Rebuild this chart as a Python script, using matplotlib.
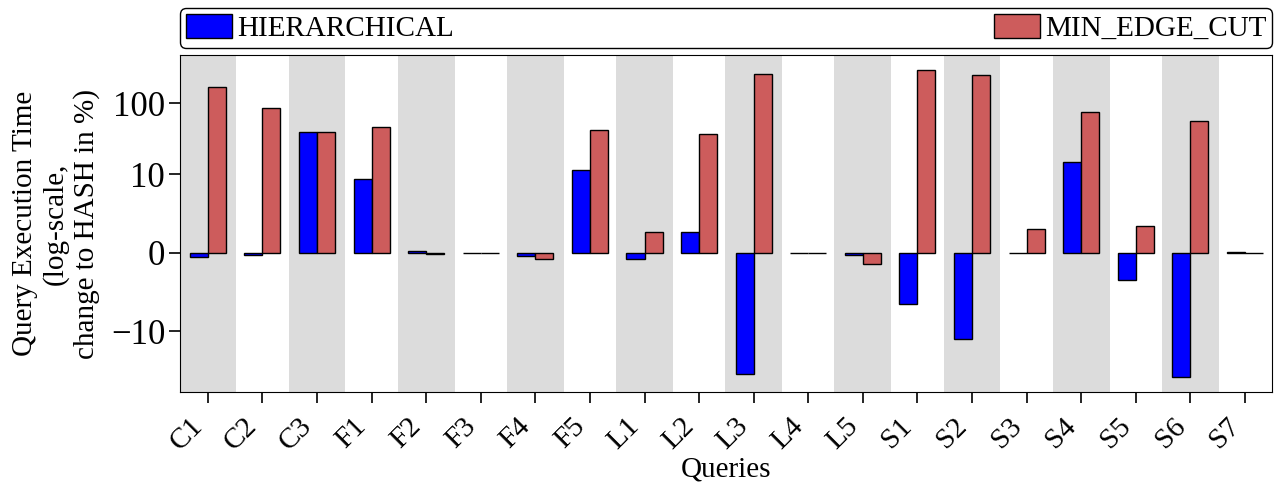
import numpy as np
import matplotlib
matplotlib.use("Agg")
from matplotlib import pyplot as plt
from matplotlib import transforms

plt.rcParams['font.family'] = ['Liberation Serif', 'DejaVu Serif']
plt.rcParams['font.size'] = 20

queries = ["C1", "C2", "C3", "F1", "F2", "F3", "F4", "F5", "L1", "L2",
           "L3", "L4", "L5", "S1", "S2", "S3", "S4", "S5", "S6", "S7"]
# change relative to HASH, in percent
hierarchical = [-0.5, -0.25, 38.8, 9.4, 0.17, 0.02, -0.45, 11.5, -0.75, 2.7,
                -40.5, 0.0, -0.25, -6.5, -12.7, -0.03, 14.8, -3.5, -43.6, 0.08]
min_edge_cut = [167, 84.5, 38.8, 46.5, -0.2, -0.02, -0.8, 41.8, 2.7, 37.1,
                259, 0.0, -1.4, 290, 252, 3.0, 74.3, 3.4, 56, -0.03]
ytick_vals = [-10, 0, 10, 100]
ytick_labels = ["\u221210", "0", "10", "100"]


def main():
    fig, ax = plt.subplots(figsize=(12.8, 4.84), dpi=100)
    x = np.arange(len(queries))
    w = 0.33

    # shade every other query
    for i in range(0, len(queries), 2):
        ax.axvspan(i - 0.52, i + 0.52, color="#dcdcdc", lw=0, zorder=0)

    ax.bar(x - w / 2, hierarchical, w, color="#0000ff", edgecolor="black",
           linewidth=1, label="HIERARCHICAL", zorder=2)
    ax.bar(x + w / 2, min_edge_cut, w, color="#cd5c5c", edgecolor="black",
           linewidth=1, label="MIN_EDGE_CUT", zorder=2)

    ax.set_yscale("symlog", linthresh=10)
    ax.set_yticks(ytick_vals)
    ax.set_yticklabels(ytick_labels, fontsize=25)
    ax.yaxis.set_minor_locator(matplotlib.ticker.NullLocator())
    ax.set_xlim(-0.5, len(queries) - 0.5)
    ax.set_xticks(x)
    ax.set_xticklabels(queries, rotation=45, ha="right", fontsize=21)
    # nudge the rotated labels a little to the left
    shift = transforms.ScaledTranslation(-5 / 100, 0, fig.dpi_scale_trans)
    for lbl in ax.get_xticklabels():
        lbl.set_transform(lbl.get_transform() + shift)
    ax.tick_params(direction="out", length=8, width=1.2)
    ax.tick_params(axis="y", pad=3)
    ax.tick_params(axis="x", pad=7)

    ax.set_xlabel("Queries", fontsize=21)
    ax.xaxis.set_label_coords(0.5, -0.19)
    ax.set_ylabel("Query Execution Time\n(log-scale,\nchange to HASH in %)",
                  fontsize=21, linespacing=1.2, labelpad=8)

    ax.legend(bbox_to_anchor=(0, 1.021, 1, 0.1), loc="lower left", mode="expand",
              ncol=2, borderaxespad=0, fancybox=True, edgecolor="black",
              framealpha=1, handlelength=1.58, handleheight=0.9,
              handletextpad=0.17, borderpad=0.2, fontsize=21)

    plt.subplots_adjust(left=0.141, right=0.994, top=0.886, bottom=0.19)
    plt.savefig("out.png")


if __name__ == '__main__':
    main()
